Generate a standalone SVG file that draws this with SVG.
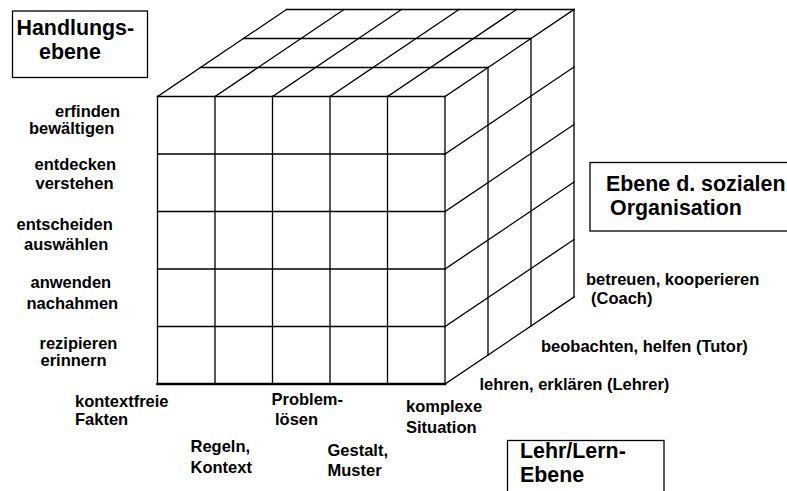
<svg xmlns="http://www.w3.org/2000/svg" width="787" height="491" viewBox="0 0 787 491">
<style>
.ln{stroke:#000;stroke-width:1.3;fill:none;stroke-linecap:square}
.bx{stroke:#000;stroke-width:1.3;fill:#fff}
.t{font-family:"Liberation Sans",Arial,sans-serif;font-weight:bold;font-size:16.5px;fill:#000}
.h{font-family:"Liberation Sans",Arial,sans-serif;font-weight:bold;font-size:21.4px;fill:#000}
</style>
<rect width="787" height="491" fill="#fff"/>
<g id="cube">
<g id="front" class="ln">
<path d="M157.5,96.5V384M215,96.5V384M272.5,96.5V384M330,96.5V384M387.5,96.5V384M445,96.5V384"/>
<path d="M157.5,96.5H445M157.5,154H445M157.5,211.5H445M157.5,269H445M157.5,326.5H445"/>
<path d="M157.5,384H445" style="stroke-width:2.6"/>
</g>
<g id="top" class="ln">
<path d="M200.5,67.5H488M243.5,38.5H531M286.5,9.5H574"/>
<path d="M157.5,96.5L286.5,9.5M215,96.5L344,9.5M272.5,96.5L401.5,9.5M330,96.5L459,9.5M387.5,96.5L516.5,9.5M445,96.5L574,9.5"/>
</g>
<g id="side" class="ln">
<path d="M488,67.5V355M531,38.5V326M574,9.5V297"/>
<path d="M445,154L574,67M445,211.5L574,124.5M445,269L574,182M445,326.5L574,239.5M445,384L574,297"/>
</g>
</g>
<g id="box-handlung">
<rect class="bx" x="12.5" y="11" width="135" height="66.5"/>
<text class="h" x="16.5" y="35">Handlungs-</text>
<text class="h" x="39" y="59">ebene</text>
</g>
<g id="box-sozial">
<rect class="bx" x="590" y="162.5" width="205" height="68.5"/>
<text class="h" x="606" y="190.5">Ebene d. sozialen</text>
<text class="h" x="610" y="214.5">Organisation</text>
</g>
<g id="box-lehr">
<rect class="bx" x="507.5" y="440.5" width="156.5" height="60"/>
<text class="h" x="520" y="458">Lehr/Lern-</text>
<text class="h" x="520" y="482">Ebene</text>
</g>
<g id="rows">
<text class="t" x="55" y="117">erfinden</text>
<text class="t" x="29" y="133.5">bewältigen</text>
<text class="t" x="34.5" y="169.5">entdecken</text>
<text class="t" x="35.5" y="188.5">verstehen</text>
<text class="t" x="16.5" y="230">entscheiden</text>
<text class="t" x="24" y="250">auswählen</text>
<text class="t" x="30.5" y="287.5">anwenden</text>
<text class="t" x="26.5" y="308.5">nachahmen</text>
<text class="t" x="39.5" y="349">rezipieren</text>
<text class="t" x="40.5" y="366">erinnern</text>
</g>
<g id="cols">
<text class="t" x="75" y="407">kontextfreie</text>
<text class="t" x="75" y="424.5">Fakten</text>
<text class="t" x="190.5" y="452">Regeln,</text>
<text class="t" x="190.5" y="472.5">Kontext</text>
<text class="t" x="271.5" y="405">Problem-</text>
<text class="t" x="275" y="424.5">lösen</text>
<text class="t" x="327.5" y="456">Gestalt,</text>
<text class="t" x="327.5" y="476">Muster</text>
<text class="t" x="406" y="412">komplexe</text>
<text class="t" x="406" y="433">Situation</text>
</g>
<g id="depth">
<text class="t" x="586" y="285">betreuen, kooperieren</text>
<text class="t" x="591" y="304">(Coach)</text>
<text class="t" x="541" y="352">beobachten, helfen (Tutor)</text>
<text class="t" x="479.5" y="390">lehren, erklären (Lehrer)</text>
</g>
</svg>
